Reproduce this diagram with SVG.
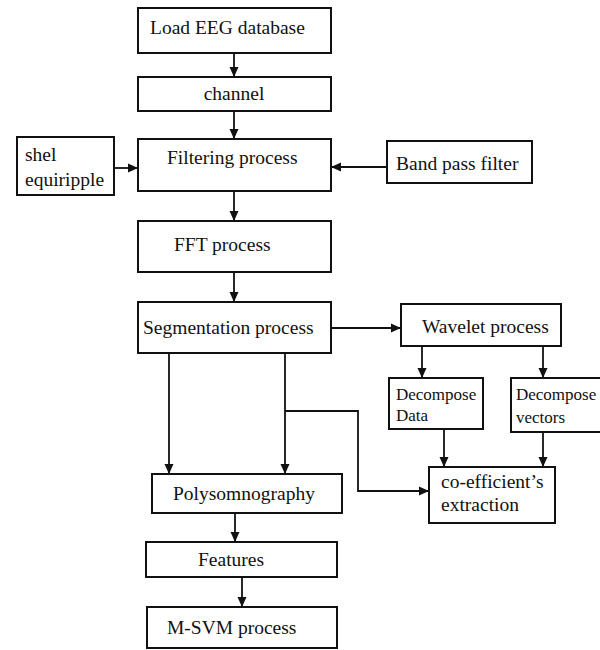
<svg xmlns="http://www.w3.org/2000/svg" width="600" height="650" viewBox="0 0 600 650">
<style>
.box{fill:#fff;stroke:#111;stroke-width:2}
.t{font-family:"Liberation Serif","Times New Roman",serif;font-size:19.5px;fill:#111}
.s{font-size:17px}
.c{fill:none;stroke:#111;stroke-width:1.8}
</style>
<defs>
<marker id="ah" markerUnits="userSpaceOnUse" markerWidth="10" markerHeight="10" refX="10" refY="5" orient="auto">
<path d="M0,0.5 L10,5 L0,9.5 z" fill="#111"/>
</marker>
</defs>
<rect width="600" height="650" fill="#fff"/>
<g id="connectors">
<path class="c" d="M234,53 V77" marker-end="url(#ah)"/>
<path class="c" d="M234,111 V139" marker-end="url(#ah)"/>
<path class="c" d="M114,168 H138" marker-end="url(#ah)"/>
<path class="c" d="M387,167 H331" marker-end="url(#ah)"/>
<path class="c" d="M234,191 V221" marker-end="url(#ah)"/>
<path class="c" d="M234,272 V302" marker-end="url(#ah)"/>
<path class="c" d="M331,328 H401" marker-end="url(#ah)"/>
<path class="c" d="M422,346 V378" marker-end="url(#ah)"/>
<path class="c" d="M543,346 V378" marker-end="url(#ah)"/>
<path class="c" d="M169,353 V474" marker-end="url(#ah)"/>
<path class="c" d="M285,353 V474" marker-end="url(#ah)"/>
<path class="c" d="M285,411 H358 V491 H429" marker-end="url(#ah)"/>
<path class="c" d="M444,429 V467" marker-end="url(#ah)"/>
<path class="c" d="M543,432 V467" marker-end="url(#ah)"/>
<path class="c" d="M235,513 V542" marker-end="url(#ah)"/>
<path class="c" d="M242,577 V607" marker-end="url(#ah)"/>
</g>
<g id="load"><rect class="box" x="138" y="8" width="193" height="45"/><text class="t" x="150" y="34">Load EEG database</text></g>
<g id="channel"><rect class="box" x="138" y="77" width="193" height="34"/><text class="t" x="234" y="100" text-anchor="middle">channel</text></g>
<g id="shel"><rect class="box" x="17" y="137" width="97" height="58"/><text class="t" x="25" y="161">shel</text><text class="t" x="25" y="186">equiripple</text></g>
<g id="filtering"><rect class="box" x="138" y="139" width="193" height="52"/><text class="t" x="167" y="164">Filtering process</text></g>
<g id="bandpass"><rect class="box" x="387" y="141" width="145" height="42"/><text class="t" x="396" y="170">Band pass filter</text></g>
<g id="fft"><rect class="box" x="138" y="221" width="193" height="51"/><text class="t" x="174" y="251">FFT process</text></g>
<g id="segmentation"><rect class="box" x="138" y="302" width="193" height="51"/><text class="t" x="143" y="334">Segmentation process</text></g>
<g id="wavelet"><rect class="box" x="401" y="304" width="160" height="42"/><text class="t" x="422" y="333">Wavelet process</text></g>
<g id="decdata"><rect class="box" x="389" y="378" width="94" height="51"/><text class="t s" x="396" y="400">Decompose</text><text class="t s" x="396" y="421">Data</text></g>
<g id="decvec"><rect class="box" x="511" y="378" width="92" height="54"/><text class="t s" x="516" y="400">Decompose</text><text class="t s" x="516" y="423">vectors</text></g>
<g id="coeff"><rect class="box" x="429" y="467" width="126" height="56"/><text class="t" x="441" y="488">co-efficient’s</text><text class="t" x="441" y="511">extraction</text></g>
<g id="poly"><rect class="box" x="152" y="474" width="190" height="39"/><text class="t" x="173" y="500">Polysomnography</text></g>
<g id="features"><rect class="box" x="146" y="542" width="191" height="35"/><text class="t" x="198" y="566">Features</text></g>
<g id="msvm"><rect class="box" x="147" y="607" width="190" height="41"/><text class="t" x="167" y="634">M-SVM process</text></g>
</svg>
